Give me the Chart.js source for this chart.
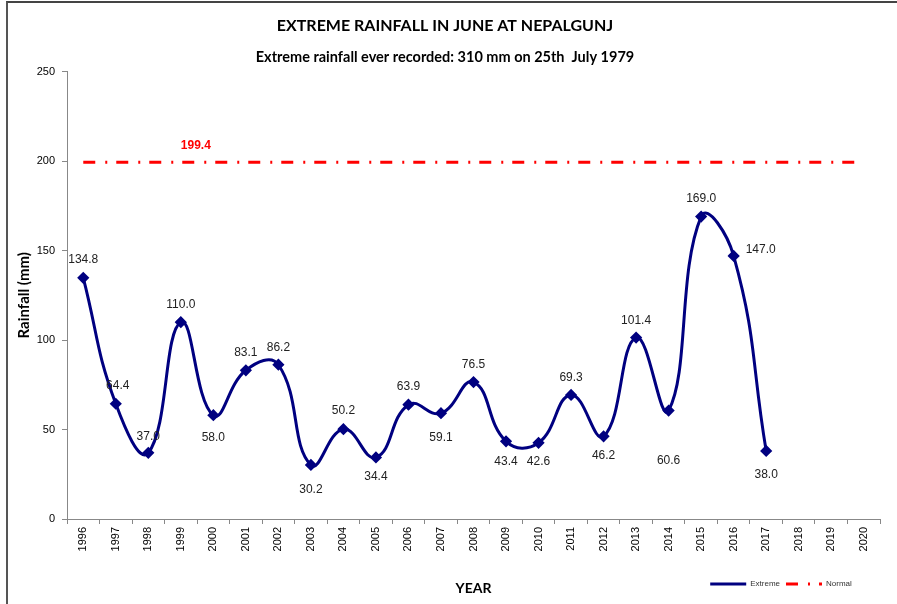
<!DOCTYPE html>
<html>
<head>
<meta charset="utf-8">
<script src="https://cdn.jsdelivr.net/npm/chart.js@4"></script>
<style>
  html, body { margin: 0; padding: 0; background: #fff; }
  #wrap { position: relative; width: 897px; height: 604px; overflow: hidden; }
  #frame { position: absolute; left: 6px; top: 1px; width: 900px; height: 610px;
           border-left: 2px solid #555; border-top: 2px solid #444; pointer-events: none; }
  canvas { position: absolute; left: 0; top: 0; }
</style>
</head>
<body>
<div id="wrap">
<canvas id="c" width="897" height="604"></canvas>
<div id="frame"></div>
</div>
<script>
const years = ['1996','1997','1998','1999','2000','2001','2002','2003','2004','2005','2006','2007','2008','2009','2010','2011','2012','2013','2014','2015','2016','2017','2018','2019','2020'];
const extreme = [134.8, 64.4, 37.0, 110.0, 58.0, 83.1, 86.2, 30.2, 50.2, 34.4, 63.9, 59.1, 76.5, 43.4, 42.6, 69.3, 46.2, 101.4, 60.6, 169.0, 147.0, 38.0, null, null, null];
const normalValue = 199.4;
const normal = years.map(() => normalValue);
const yTicks = [0, 50, 100, 150, 200, 250];

// label placement per point (style only): [dx, dy]
const labelOffsets = [
  [0,-18],[2,-18],[0,-16],[0,-17],[0,22],[0,-18],[0,-17],[0,25],[0,-18],[0,19],
  [0,-18],[0,24],[0,-17],[0,20],[0,19],[0,-17],[0,19],[0,-17],[0,50],[0,-18],
  [27,-6],[0,24]
];

const labelPlugin = {
  id: 'valueLabels',
  afterDatasetsDraw(chart) {
    const ctx = chart.ctx;
    const meta = chart.getDatasetMeta(0);
    ctx.save();
    ctx.font = '12px "Liberation Sans", Arial, sans-serif';
    ctx.fillStyle = '#222';
    ctx.textAlign = 'center';
    ctx.textBaseline = 'middle';
    meta.data.forEach((pt, i) => {
      const v = extreme[i];
      if (v === null || v === undefined) return;
      const off = labelOffsets[i] || [0, -17];
      ctx.fillText(v.toFixed(1), pt.x + off[0], pt.y + off[1]);
    });
    const nMeta = chart.getDatasetMeta(1);
    const p = nMeta.data[3];
    ctx.font = 'bold 12px "Liberation Sans", Arial, sans-serif';
    ctx.fillStyle = '#ff0000';
    ctx.fillText(normalValue.toFixed(1), p.x + 15, p.y - 16);
    ctx.restore();
  }
};

new Chart(document.getElementById('c'), {
  type: 'line',
  data: {
    labels: years,
    datasets: [
      {
        label: 'Extreme',
        data: extreme,
        borderColor: '#000080',
        backgroundColor: '#000080',
        borderWidth: 3,
        tension: 0.45,
        pointStyle: 'rectRot',
        pointRadius: 4,
        pointBackgroundColor: '#000080',
        pointBorderColor: '#000080',
        spanGaps: false
      },
      {
        label: 'Normal',
        data: normal,
        borderColor: '#ff0000',
        backgroundColor: '#ff0000',
        borderWidth: 3,
        borderDash: [12, 10, 2, 9],
        pointRadius: 0,
        tension: 0
      }
    ]
  },
  options: {
    responsive: false,
    animation: false,
    layout: { padding: { left: 10, right: 17, top: 0, bottom: 6 } },
    plugins: {
      title: {
        display: true,
        text: 'EXTREME RAINFALL IN JUNE AT NEPALGUNJ',
        color: '#000',
        font: { family: 'Lato, "Open Sans", sans-serif', size: 16, weight: 'bold' },
        padding: { top: 16, bottom: 13 }
      },
      subtitle: {
        display: true,
        text: 'Extreme rainfall ever recorded: 310 mm on 25th  July 1979',
        color: '#000',
        font: { family: 'Lato, "Open Sans", sans-serif', size: 14.5, weight: 'bold' },
        padding: { top: 0, bottom: 6 }
      },
      legend: {
        display: true,
        position: 'bottom',
        align: 'end',
        labels: {
          color: '#333',
          font: { family: '"Liberation Sans", Arial, sans-serif', size: 8 },
          usePointStyle: true,
          pointStyle: 'line',
          pointStyleWidth: 36,
          padding: 6,
          boxHeight: 3,
          generateLabels(chart) {
            const items = Chart.defaults.plugins.legend.labels.generateLabels(chart);
            items.forEach((it, i) => {
              const ds = chart.data.datasets[it.datasetIndex];
              it.lineDash = ds.borderDash || [];
              it.strokeStyle = ds.borderColor;
              it.lineWidth = 3;
              if (i === items.length - 1) it.text = it.text + '          ';
            });
            return items;
          }
        }
      },
      tooltip: { enabled: false }
    },
    scales: {
      x: {
        offset: true,
        grid: { display: true, drawOnChartArea: false, drawTicks: true, tickLength: 5, color: '#888', offset: true },
        border: { display: true, color: '#888' },
        ticks: {
          color: '#000',
          font: { family: '"Liberation Sans", Arial, sans-serif', size: 11 },
          minRotation: 90, maxRotation: 90, autoSkip: false, padding: 3
        },
        title: {
          display: true,
          text: 'YEAR',
          color: '#000',
          font: { family: 'Lato, "Open Sans", sans-serif', size: 14, weight: 'bold' },
          padding: { top: 0, bottom: -23 }
        },
        afterFit(scale) { scale.height = 55; }
      },
      y: {
        min: 0, max: 250,
        afterBuildTicks(scale) { scale.ticks = yTicks.map(v => ({ value: v })); },
        grid: { display: true, drawOnChartArea: false, drawTicks: true, tickLength: 5, color: '#888' },
        border: { display: true, color: '#888' },
        ticks: {
          color: '#000',
          font: { family: '"Liberation Sans", Arial, sans-serif', size: 11 },
          padding: 7
        },
        title: {
          display: true,
          text: 'Rainfall (mm)',
          color: '#000',
          font: { family: 'Lato, "Open Sans", sans-serif', size: 15, weight: 'bold' },
          padding: { top: 5, bottom: 0 }
        },
        afterFit(scale) { scale.width = 57; }
      }
    }
  },
  plugins: [labelPlugin]
});
</script>
</body>
</html>
